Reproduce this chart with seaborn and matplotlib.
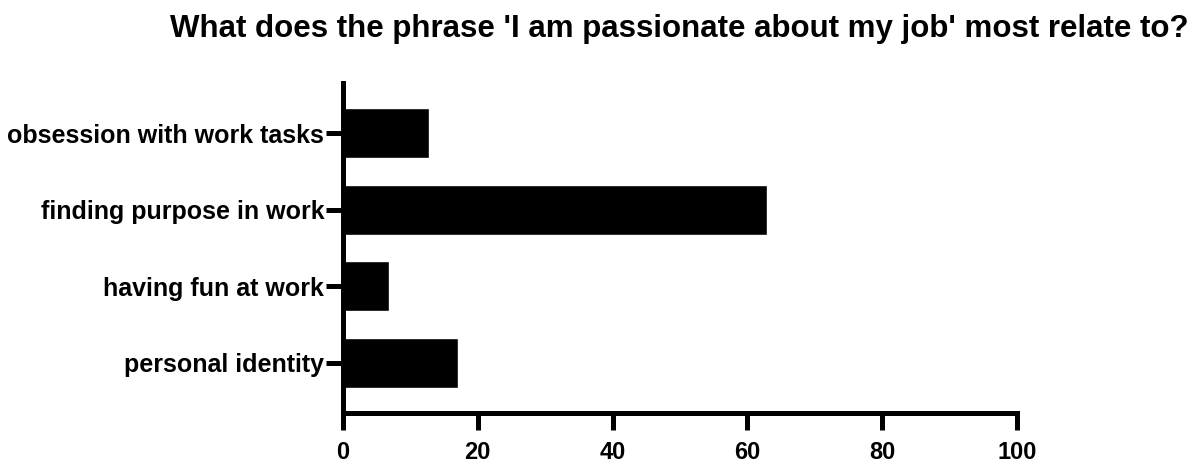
import matplotlib
matplotlib.use('Agg')
import matplotlib.pyplot as plt
import seaborn as sns
import pandas as pd

# responses (% of participants)
categories = ['obsession with work tasks', 'finding purpose in work',
              'having fun at work', 'personal identity']
percent = [12.8, 62.9, 6.9, 17.1]
x_ticks = [0, 20, 40, 60, 80, 100]

df = pd.DataFrame({'category': categories, 'percent': percent})

sns.set_style('ticks')
plt.rcParams['font.family'] = ['Liberation Sans', 'DejaVu Sans']
plt.rcParams['font.weight'] = 'bold'
plt.rcParams['text.color'] = 'black'
plt.rcParams['xtick.color'] = 'black'
plt.rcParams['ytick.color'] = 'black'
plt.rcParams['axes.edgecolor'] = 'black'

fig = plt.figure(figsize=(12, 4.67), dpi=100)
ax = fig.add_axes([0.2858, 0.1156, 0.5617, 0.7066])

sns.barplot(data=df, y='category', x='percent', orient='h', color='black',
            width=0.655, saturation=1, ax=ax)

ax.set_xlim(0, 100)
ax.set_ylim(3.66, -0.66)
ax.set_xticks(x_ticks)
ax.set_xlabel('')
ax.set_ylabel('')

sns.despine(ax=ax)
for s in ['left', 'bottom']:
    ax.spines[s].set_linewidth(3.6)
    ax.spines[s].set_color('black')
    ax.spines[s].set_capstyle('projecting')
ax.tick_params(axis='both', width=3.6, length=12.5, color='black', labelcolor='black')
ax.tick_params(axis='x', pad=8, labelsize=17)
ax.tick_params(axis='y', pad=1, labelsize=18)
for lab in ax.get_xticklabels() + ax.get_yticklabels():
    lab.set_fontweight('bold')

fig.suptitle("What does the phrase 'I am passionate about my job' most relate to?",
             x=0.566, y=0.97, fontsize=22.5, fontweight='bold', color='black')

fig.savefig('out.png', dpi=100)
